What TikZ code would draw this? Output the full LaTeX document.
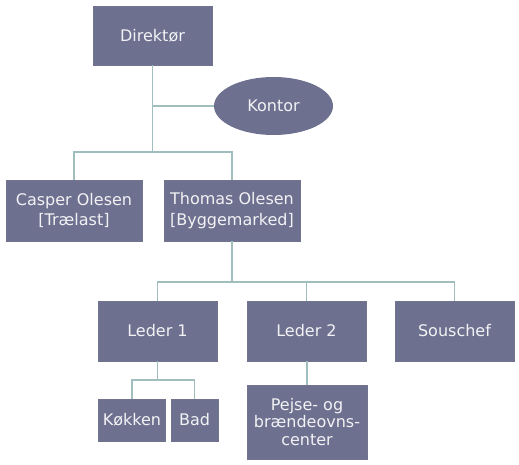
\documentclass[tikz,border=0pt]{standalone}
\usepackage{fontspec}
\setmainfont{DejaVu Sans}
\usetikzlibrary{shapes.geometric}
\definecolor{boxfill}{HTML}{6E7090}
\definecolor{linegray}{HTML}{A0BEBE}
\definecolor{txt}{HTML}{F2F2F4}

\begin{document}
\begin{tikzpicture}[x=1pt, y=-1pt,
    box/.style={rectangle, fill=boxfill, draw=boxfill!80!gray, text=txt,
    align=center, inner sep=2pt, font=\fontsize{16}{20.5}\selectfont},
    oval/.style={ellipse, fill=boxfill, text=txt, inner sep=0pt,
    minimum width=119pt, minimum height=58pt, font=\fontsize{16}{20.5}\selectfont},
    conn/.style={draw=linegray, line width=1.4pt}]
    \useasboundingbox (0,0) rectangle (519,465);
    \node[box, minimum width=119pt, minimum height=59pt] (dir) at (152.5,35.5) {Direktør};
    \node[oval] (kontor) at (273.5,106) {Kontor};
    \node[box, minimum width=136pt, minimum height=61pt] (casper) at (74,210.5) {Casper Olesen\\{}[Trælast]};
    \node[box, minimum width=136pt, minimum height=61pt] (thomas) at (232,210.5) {Thomas Olesen\\{}[Byggemarked]};
    \node[box, minimum width=119pt, minimum height=60pt] (leder1) at (157.5,331) {Leder 1};
    \node[box, minimum width=119pt, minimum height=60pt] (leder2) at (306.5,331) {Leder 2};
    \node[box, minimum width=119pt, minimum height=60pt] (souschef) at (454.5,331) {Souschef};
    \node[box, minimum width=67pt, minimum height=42pt, inner sep=1pt] (koekken) at (132,420) {Køkken};
    \node[box, minimum width=47pt, minimum height=42pt] (bad) at (194.5,420) {Bad};
    \node[box, minimum width=120pt, minimum height=74pt,
      font=\fontsize{16}{17.5}\selectfont] (pejse) at (307,422) {Pejse- og\\brændeovns-\\center};
    \coordinate (j1) at (152.5,152);
    \coordinate (j2) at (232,282);
    \coordinate (j3) at (157.5,380);
    \draw[conn] (dir) -- (j1);
    \draw[conn] (dir.south |- kontor) -- (kontor);
    \draw[conn] (j1) -| (casper);
    \draw[conn] (j1) -| (thomas);
    \draw[conn] (thomas) -- (j2);
    \draw[conn] (j2) -| (leder1);
    \draw[conn] (j2) -| (leder2);
    \draw[conn] (j2) -| (souschef);
    \draw[conn] (leder1) -- (j3);
    \draw[conn] (j3) -| (koekken);
    \draw[conn] (j3) -| (bad);
    \draw[conn] (leder2.south -| pejse) -- (pejse);
\end{tikzpicture}
\end{document}
